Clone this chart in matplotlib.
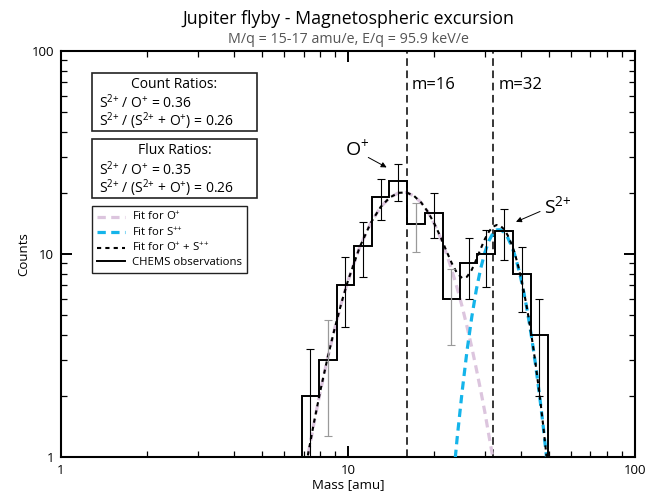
import matplotlib
matplotlib.use('Agg')
import matplotlib.pyplot as plt
from matplotlib.lines import Line2D
from matplotlib.patches import Rectangle
import numpy as np

plt.rcParams['font.family'] = ['Open Sans', 'DejaVu Sans']
plt.rcParams['mathtext.default'] = 'regular'

# ---------------- data ----------------
bin_edges = [6.90, 7.94, 9.13, 10.52, 12.15, 13.93, 16.02, 18.55, 21.38,
             24.56, 28.22, 32.53, 37.49, 43.32, 49.88]
counts = [2, 3, 7, 11, 19, 23, 14, 16, 6, 9, 10, 13, 8, 4]
count_err = [1.41, 1.73, 2.65, 3.32, 4.36, 4.80, 3.74, 4.00, 2.45, 3.00,
             3.16, 3.61, 2.83, 2.00]
gray_err = [False, True, False, False, False, False, True, False, True,
            False, False, False, False, False]

mass_fit = [7.0, 7.2, 7.6, 8.0, 8.5, 9.0, 9.5, 10, 11, 12, 13, 14, 15, 16,
            17, 18, 19, 20, 21, 22, 23, 24, 25, 26, 27, 28, 29, 30, 31, 32,
            33, 34, 35, 36, 37, 38, 39, 40, 41, 42, 43, 44, 45, 46, 47, 48,
            49, 50, 52]
fit_o = [0.76, 0.96, 1.45, 2.09, 3.09, 4.32, 5.77, 7.38, 10.85, 14.2, 17.05,
         19.0, 20.0, 20.1, 19.3, 17.9, 16.1, 14.06, 12.05, 10.1, 8.36, 6.81,
         5.5, 4.38, 3.47, 2.72, 2.13, 1.66, 1.27, 0.99, 0.75, 0.58, 0.44,
         0.33, 0.25, 0.19, 0.15, 0.11, 0.08, 0.06, 0.05, 0.04, 0.03, 0.02,
         0.02, 0.01, 0.01, 0.01, 0.01]
fit_s = [0.01, 0.01, 0.01, 0.01, 0.01, 0.01, 0.01, 0.01, 0.01, 0.01, 0.01,
         0.01, 0.01, 0.01, 0.01, 0.01, 0.01, 0.04, 0.13, 0.30, 0.65, 1.23,
         2.11, 3.35, 4.89, 6.66, 8.48, 10.19, 11.63, 12.64, 13.15, 13.17,
         12.79, 12.06, 11.1, 10.04, 8.82, 7.62, 6.47, 5.4, 4.44, 3.59, 2.88,
         2.27, 1.78, 1.38, 1.05, 0.8, 0.45]

mass_lines = [16, 32]
line_labels = ['m=16', 'm=32']

title = 'Jupiter flyby - Magnetospheric excursion'
subtitle = 'M/q = 15-17 amu/e, E/q = 95.9 keV/e'
count_ratio_lines = ['Count Ratios:', r'S$^{2{+}}$ / O$^{+}$ = 0.36',
                     r'S$^{2{+}}$ / (S$^{2{+}}$ + O$^{+}$) = 0.26']
flux_ratio_lines = ['Flux Ratios:', r'S$^{2{+}}$ / O$^{+}$ = 0.35',
                    r'S$^{2{+}}$ / (S$^{2{+}}$ + O$^{+}$) = 0.26']

# ---------------- figure ----------------
fig = plt.figure(figsize=(6.46, 4.98), dpi=100)
ax = fig.add_axes([0.0944, 0.0823, 0.8885, 0.8153])
ax.set_xscale('log')
ax.set_yscale('log')
ax.set_xlim(1, 100)
ax.set_ylim(1, 100)

pink = '#dcc5de'
cyan = '#14b4ea'

edges = np.array(bin_edges)
centers = np.sqrt(edges[:-1] * edges[1:])
cnt = np.array(counts, dtype=float)
err = np.array(count_err)
gmask = np.array(gray_err)

# fits
ax.plot(mass_fit, fit_o, color=pink, lw=2.3, ls=(0, (2.6, 1.7)), zorder=3)
ax.plot(mass_fit, fit_s, color=cyan, lw=2.3, ls=(0, (2.6, 1.7)), zorder=3)
fit_tot = np.array(fit_o) + np.array(fit_s)
ax.plot(mass_fit, fit_tot, color='black', lw=1.5, ls=(0, (2, 2)), zorder=4)

# observations
ax.stairs(cnt, edges, baseline=0.1, color='black', lw=1.4, zorder=5)
ax.errorbar(centers[~gmask], cnt[~gmask], yerr=err[~gmask], fmt='none',
            ecolor='black', elinewidth=0.8, capsize=3, capthick=0.8, zorder=6)
ax.errorbar(centers[gmask], cnt[gmask], yerr=err[gmask], fmt='none',
            ecolor='#9a9a9a', elinewidth=0.9, capsize=3, capthick=0.8, zorder=6)

# vertical mass lines
for m, lab in zip(mass_lines, line_labels):
    ax.axvline(m, color='black', lw=1.1, ls=(0, (5, 3)), zorder=2)
    ax.text(m * 1.045, 68, lab, fontsize=12, ha='left', va='center')

# annotations
ax.text(10.75, 32.9, 'O$^{+}$', fontsize=14, ha='center', va='center')
ax.annotate('', xy=(13.64, 26.7), xytext=(11.77, 29.9),
            arrowprops=dict(arrowstyle='-|>', color='black', lw=0.7,
                            mutation_scale=8, shrinkA=0, shrinkB=0))
ax.text(53.9, 17.3, 'S$^{2{+}}$', fontsize=14, ha='center', va='center')
ax.annotate('', xy=(38.5, 14.4), xytext=(46.7, 16.2),
            arrowprops=dict(arrowstyle='-|>', color='black', lw=0.7,
                            mutation_scale=8, shrinkA=0, shrinkB=0))

# ratio boxes
bx0, bx1 = 0.0545, 0.341
for (ytop, ybot), lines, ys in [((0.9466, 0.803), count_ratio_lines,
                                 (0.9163, 0.8727, 0.8276)),
                                ((0.7833, 0.6387), flux_ratio_lines,
                                 (0.7537, 0.7086, 0.6633))]:
    ax.add_patch(Rectangle((bx0, ybot), bx1 - bx0, ytop - ybot,
                           transform=ax.transAxes, fill=False,
                           ec='#222222', lw=1.2, zorder=7))
    ax.text((bx0 + bx1) / 2, ys[0], lines[0], transform=ax.transAxes,
            ha='center', va='center', fontsize=10)
    ax.text(0.066, ys[1], lines[1], transform=ax.transAxes,
            ha='left', va='center', fontsize=10)
    ax.text(0.066, ys[2], lines[2], transform=ax.transAxes,
            ha='left', va='center', fontsize=10)

# legend
handles = [Line2D([], [], color=pink, lw=2.3, ls=(0, (2.6, 1.7))),
           Line2D([], [], color=cyan, lw=2.3, ls=(0, (2.6, 1.7))),
           Line2D([], [], color='black', lw=1.5, ls=(0, (2, 2))),
           Line2D([], [], color='black', lw=1.4)]
labels = ['Fit for O$^{+}$', 'Fit for S$^{{+}{+}}$',
          'Fit for O$^{+}$ + S$^{{+}{+}}$', 'CHEMS observations']
leg = ax.legend(handles, labels, loc='upper left',
                bbox_to_anchor=(0.0545, 0.618), borderaxespad=0,
                fontsize=8.2, frameon=True, fancybox=False, framealpha=1,
                edgecolor='#222222', handlelength=2.5, handletextpad=0.6,
                labelspacing=0.22, borderpad=0.4)
leg.get_frame().set_linewidth(1.0)

# axes styling
for sp in ax.spines.values():
    sp.set_linewidth(1.5)
ax.tick_params(which='both', direction='in', top=True, right=True)
ax.tick_params(which='major', length=8, width=1.4, labelsize=9.5, pad=5)
ax.tick_params(which='minor', length=4, width=0.9)
ax.set_xticks([1, 10, 100])
ax.set_xticklabels(['1', '10', '100'])
ax.set_yticks([1, 10, 100])
ax.set_yticklabels(['1', '10', '100'])
ax.set_xlabel('Mass [amu]', fontsize=9.5, labelpad=1)
ax.set_ylabel('Counts', fontsize=9.5)
ax.yaxis.set_label_coords(-0.054, 0.5)

fig.text(0.5387, 0.962, title, ha='center', va='center', fontsize=12.8)
fig.text(0.5387, 0.9197, subtitle, ha='center', va='center', fontsize=10.3,
         color='#555555')

fig.savefig('out.png', dpi=100)
